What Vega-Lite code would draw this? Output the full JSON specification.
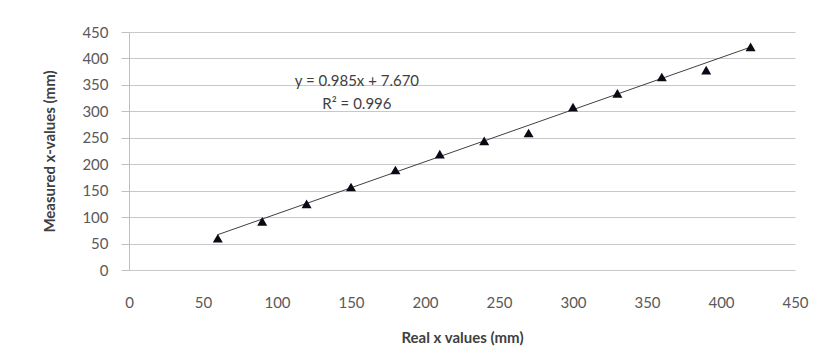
{
  "$schema": "https://vega.github.io/schema/vega-lite/v6.json",
  "width": 666,
  "height": 238,
  "autosize": "none",
  "padding": {"left": 129, "top": 32, "right": 26, "bottom": 86},
  "background": "white",
  "config": {
    "view": {"stroke": null},
    "font": "Lato",
    "axis": {
      "labelFont": "Lato",
      "titleFont": "Lato",
      "labelFontSize": 15,
      "labelColor": "#595959",
      "titleColor": "#404040",
      "titleFontSize": 15,
      "titleFontWeight": "bold",
      "gridColor": "#c8c8c8",
      "domainColor": "#bfbfbf",
      "tickColor": "#bfbfbf",
      "labelOverlap": false,
      "labelFlush": false
    }
  },
  "datasets": {
    "points": [
      {"real": 60, "measured": 60},
      {"real": 90, "measured": 92},
      {"real": 120, "measured": 125},
      {"real": 150, "measured": 157},
      {"real": 180, "measured": 189},
      {"real": 210, "measured": 219},
      {"real": 240, "measured": 244},
      {"real": 270, "measured": 259},
      {"real": 300, "measured": 308},
      {"real": 330, "measured": 334},
      {"real": 360, "measured": 365},
      {"real": 390, "measured": 378},
      {"real": 420, "measured": 422}
    ],
    "trend": [
      {"real": 60, "measured": 66.77},
      {"real": 420, "measured": 421.37}
    ],
    "labels": [
      {"real": 154, "measured": 357, "text": "y = 0.985x + 7.670"},
      {"real": 154, "measured": 314, "text": "R² = 0.996"}
    ]
  },
  "encoding": {
    "x": {
      "field": "real", "type": "quantitative",
      "scale": {"domain": [0, 450], "nice": false},
      "axis": {
        "values": [0, 50, 100, 150, 200, 250, 300, 350, 400, 450],
        "title": "Real x values (mm)",
        "grid": false,
        "domain": false,
        "ticks": false,
        "labelPadding": 25,
        "titlePadding": 20
      }
    },
    "y": {
      "field": "measured", "type": "quantitative",
      "scale": {"domain": [0, 450], "nice": false},
      "axis": {
        "values": [0, 50, 100, 150, 200, 250, 300, 350, 400, 450],
        "tickCount": 10,
        "title": "Measured x-values  (mm)",
        "grid": true,
        "tickSize": 8,
        "labelPadding": 13,
        "titlePadding": 24
      }
    }
  },
  "layer": [
    {
      "data": {"name": "trend"},
      "mark": {"type": "line", "color": "#404040", "strokeWidth": 1}
    },
    {
      "data": {"name": "points"},
      "mark": {"type": "point", "shape": "triangle-up", "filled": true, "color": "#0a0a14", "opacity": 1, "size": 100}
    },
    {
      "data": {"name": "labels"},
      "mark": {"type": "text", "fontSize": 15, "color": "#404040", "font": "Lato"},
      "encoding": {
        "text": {"field": "text", "type": "nominal"}
      }
    }
  ]
}
